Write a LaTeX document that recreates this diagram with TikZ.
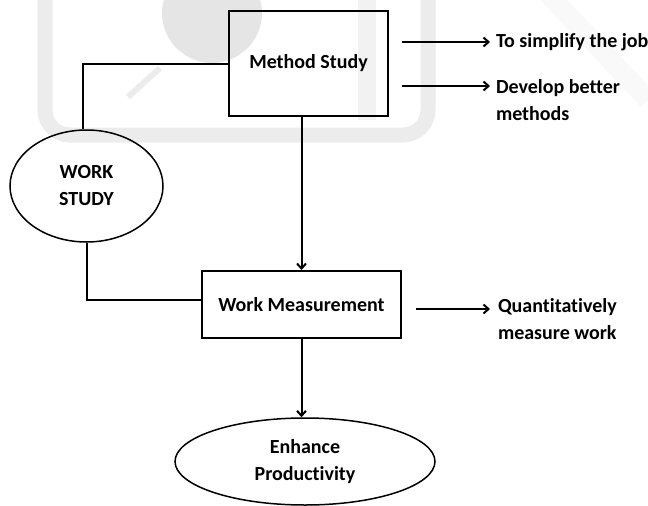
\documentclass[tikz,border=0pt]{standalone}
\usepackage{fontspec}
\setmainfont[Ligatures=NoCommon]{Carlito}
\usetikzlibrary{shapes.geometric,arrows.meta}

\begin{document}
\begin{tikzpicture}
    [x=1pt,y=-1pt,
     line width=2pt,
     every node/.style={font=\fontsize{20}{27}\selectfont\bfseries},
     box/.style={rectangle,draw,inner sep=0pt},
     oval/.style={ellipse,draw,line width=1.5pt,inner sep=0pt,align=center},
     note/.style={anchor=base west,inner sep=0pt,align=left},
     link/.style={-{Straight Barb[length=5pt,width=9pt]}},
     wband/.style={draw=gray!15,line width=15pt}
    ]
\useasboundingbox (0,0) rectangle (648,506);
% faint logo behind the chart
\fill[gray!20] (212,13) circle (50);
\draw[wband,rounded corners=25pt] (45,-20) |- (428,135) -- (428,-20);
\draw[wband,draw=gray!10,line width=18pt] (367,-20) -- (367,120);
\draw[wband,draw=gray!5,line width=20pt] (535,-20) -- (648,100);
\draw[wband,line width=6pt] (128,97) -- (160,68);

% boxes and ovals
\node[box,minimum width=159pt,minimum height=105pt] (method) at (308.5,63.5) {Method Study};
\node[oval,minimum width=153pt,minimum height=112pt] (work) at (86.5,186) {WORK\\STUDY};
\node[box,minimum width=199pt,minimum height=67pt] (measure) at (301.5,304.5) {Work Measurement};
\node[oval,minimum width=260pt,minimum height=87pt] (enhance) at (305,461.5) {Enhance\\Productivity};

% side notes (base anchor sits on the last line)
\node[note] (simplify) at (495,47) {To simplify the job};
\node[note] (better) at (495,120) {Develop better\\methods};
\node[note] (quant) at (497,339) {Quantitatively\\measure work};

% connectors
\draw (method.west) -| ([xshift=-4pt]work.north);
\draw (work.south) |- ([yshift=5pt]measure.west);
\draw[link] (measure.north |- method.south) -- (measure.north);
\draw[link] (measure.south) -- (measure.south |- enhance.north);
\draw[link] ([xshift=13pt,yshift=5pt]method.east |- simplify.base west) -- ([xshift=-5pt,yshift=5pt]simplify.base west);
\draw[link] ([xshift=13pt,yshift=34pt]method.east |- better.base west) -- ([xshift=-5pt,yshift=34pt]better.base west);
\draw[link] ([xshift=14pt,yshift=30pt]measure.east |- quant.base west) -- ([xshift=-7pt,yshift=30pt]quant.base west);
\end{tikzpicture}
\end{document}
